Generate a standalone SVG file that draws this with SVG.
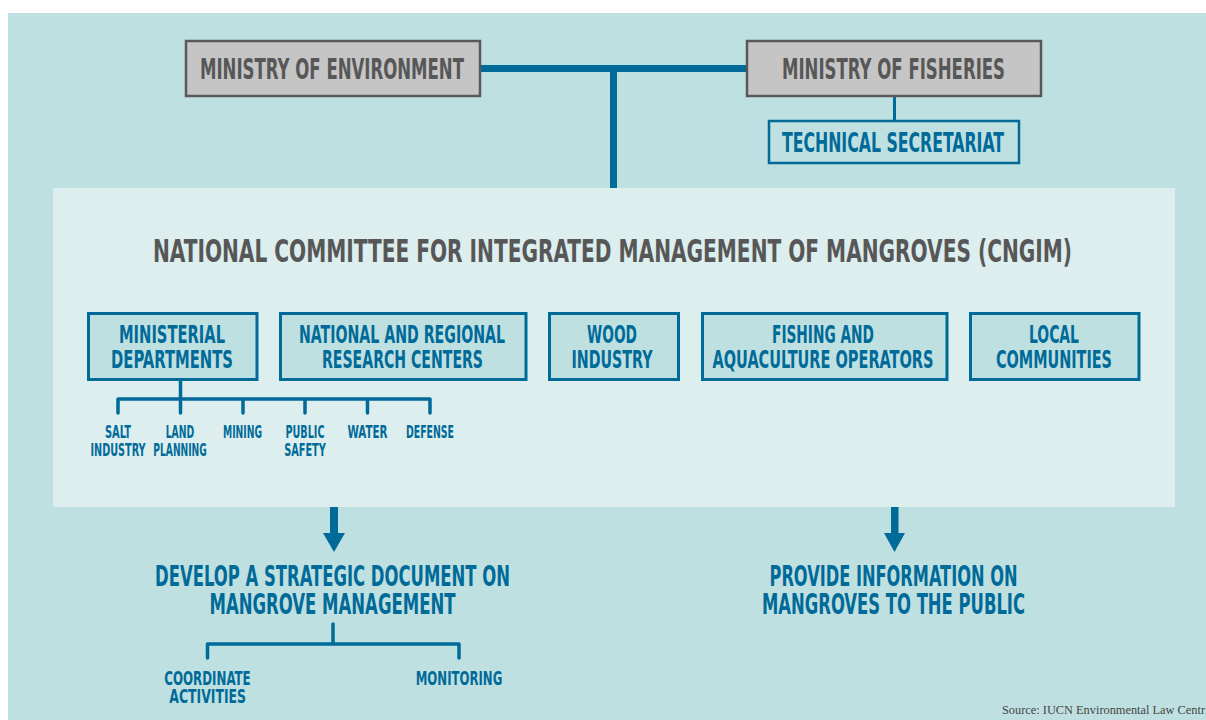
<svg xmlns="http://www.w3.org/2000/svg" width="1206" height="720" viewBox="0 0 1206 720">
<style>
.gbox{fill:#c5c5c5;stroke:#595959;stroke-width:2.5}
.bbox{fill:#bfe0e0;stroke:#006a99;stroke-width:3}
.gt{font-family:"Liberation Sans Narrow","DejaVu Sans Condensed","Liberation Sans",sans-serif;font-weight:bold;fill:#575757;text-anchor:middle}
.bt{font-family:"Liberation Sans Narrow","DejaVu Sans Condensed","Liberation Sans",sans-serif;font-weight:bold;fill:#006a99;text-anchor:middle}
.ln{stroke:#006a99;fill:none;stroke-linecap:round;stroke-linejoin:round}
.src{font-family:"Liberation Serif","DejaVu Serif",serif;fill:#444;font-size:12.5px}
</style>
<rect x="0" y="0" width="1206" height="720" fill="#ffffff"/>
<rect x="8" y="13" width="1198" height="707" fill="#bfe0e0"/>
<rect id="panel" x="53" y="188" width="1122" height="319" fill="#dceeee"/>
<g id="connectors">
<rect x="480" y="65" width="268" height="7" fill="#006a99"/>
<rect x="610" y="65" width="7" height="123" fill="#006a99"/>
<line class="ln" x1="894.5" y1="96" x2="894.5" y2="121" style="stroke-width:3;stroke-linecap:butt"/>
<path class="ln" style="stroke-width:3.5" d="M180.5 380 V399 M118 413 V399 H430 V413 M180.5 399 V413 M243 399 V413 M305 399 V413 M367.5 399 V413"/>
<rect x="330" y="507" width="8" height="28" fill="#006a99"/>
<polygon points="323,533 345,533 334,552" fill="#006a99"/>
<rect x="891" y="507" width="7.5" height="28" fill="#006a99"/>
<polygon points="884,533 905,533 894.5,552" fill="#006a99"/>
<path class="ln" style="stroke-width:3.5" d="M333 624 V644 M207.5 658 V644 H459 V658"/>
</g>
<g id="ministry-environment">
<rect class="gbox" x="186" y="41" width="294" height="55"/>
<text class="gt" x="332" y="79" font-size="29" textLength="264" lengthAdjust="spacingAndGlyphs">MINISTRY OF ENVIRONMENT</text>
</g>
<g id="ministry-fisheries">
<rect class="gbox" x="747" y="41" width="294" height="55"/>
<text class="gt" x="893.5" y="79" font-size="29" textLength="223" lengthAdjust="spacingAndGlyphs">MINISTRY OF FISHERIES</text>
</g>
<g id="technical-secretariat">
<rect class="bbox" x="769" y="121" width="250" height="42" style="stroke-width:2.5"/>
<text class="bt" x="893" y="152" font-size="26.5" textLength="222" lengthAdjust="spacingAndGlyphs">TECHNICAL SECRETARIAT</text>
</g>
<g id="cngim-title">
<text class="gt" transform="translate(612.5 262) scale(1 1.333)" x="0" y="0" font-size="24" textLength="919" lengthAdjust="spacingAndGlyphs">NATIONAL COMMITTEE FOR INTEGRATED MANAGEMENT OF MANGROVES (CNGIM)</text>
</g>
<g id="ministerial-departments">
<rect class="bbox" x="88.5" y="313.5" width="168.5" height="66"/>
<text class="bt" x="172" y="343" font-size="25" textLength="106" lengthAdjust="spacingAndGlyphs">MINISTERIAL</text>
<text class="bt" x="172" y="368" font-size="25" textLength="122" lengthAdjust="spacingAndGlyphs">DEPARTMENTS</text>
</g>
<g id="research-centers">
<rect class="bbox" x="280.5" y="313.5" width="245.5" height="66"/>
<text class="bt" x="402" y="343" font-size="25" textLength="206" lengthAdjust="spacingAndGlyphs">NATIONAL AND REGIONAL</text>
<text class="bt" x="402.5" y="368" font-size="25" textLength="161" lengthAdjust="spacingAndGlyphs">RESEARCH CENTERS</text>
</g>
<g id="wood-industry">
<rect class="bbox" x="549.5" y="313.5" width="129" height="66"/>
<text class="bt" x="612" y="343" font-size="25" textLength="50" lengthAdjust="spacingAndGlyphs">WOOD</text>
<text class="bt" x="612" y="368" font-size="25" textLength="81" lengthAdjust="spacingAndGlyphs">INDUSTRY</text>
</g>
<g id="fishing-aquaculture">
<rect class="bbox" x="702.5" y="313.5" width="244.5" height="66"/>
<text class="bt" x="823" y="343" font-size="25" textLength="102" lengthAdjust="spacingAndGlyphs">FISHING AND</text>
<text class="bt" x="823" y="368" font-size="25" textLength="221" lengthAdjust="spacingAndGlyphs">AQUACULTURE OPERATORS</text>
</g>
<g id="local-communities">
<rect class="bbox" x="970.5" y="313.5" width="168.5" height="66"/>
<text class="bt" x="1054" y="343" font-size="25" textLength="50" lengthAdjust="spacingAndGlyphs">LOCAL</text>
<text class="bt" x="1054" y="368" font-size="25" textLength="116" lengthAdjust="spacingAndGlyphs">COMMUNITIES</text>
</g>
<g id="salt-industry">
<text class="bt" x="118" y="438" font-size="18.5" textLength="26" lengthAdjust="spacingAndGlyphs">SALT</text>
<text class="bt" x="118" y="456" font-size="18.5" textLength="55" lengthAdjust="spacingAndGlyphs">INDUSTRY</text>
</g>
<g id="land-planning">
<text class="bt" x="180" y="438" font-size="18.5" textLength="28.6" lengthAdjust="spacingAndGlyphs">LAND</text>
<text class="bt" x="180" y="456" font-size="18.5" textLength="53.4" lengthAdjust="spacingAndGlyphs">PLANNING</text>
</g>
<g id="mining">
<text class="bt" x="242.5" y="438" font-size="18.5" textLength="39" lengthAdjust="spacingAndGlyphs">MINING</text>
</g>
<g id="public-safety">
<text class="bt" x="305" y="438" font-size="18.5" textLength="39" lengthAdjust="spacingAndGlyphs">PUBLIC</text>
<text class="bt" x="305" y="456" font-size="18.5" textLength="41.7" lengthAdjust="spacingAndGlyphs">SAFETY</text>
</g>
<g id="water">
<text class="bt" x="367.5" y="438" font-size="18.5" textLength="40" lengthAdjust="spacingAndGlyphs">WATER</text>
</g>
<g id="defense">
<text class="bt" x="430" y="438" font-size="18.5" textLength="48" lengthAdjust="spacingAndGlyphs">DEFENSE</text>
</g>
<g id="strategic-document">
<text class="bt" x="332.5" y="586" font-size="28" textLength="355" lengthAdjust="spacingAndGlyphs">DEVELOP A STRATEGIC DOCUMENT ON</text>
<text class="bt" x="332.5" y="614" font-size="28" textLength="246" lengthAdjust="spacingAndGlyphs">MANGROVE MANAGEMENT</text>
</g>
<g id="provide-information">
<text class="bt" x="893.5" y="585.5" font-size="28" textLength="248" lengthAdjust="spacingAndGlyphs">PROVIDE INFORMATION ON</text>
<text class="bt" x="893.5" y="614" font-size="28" textLength="263" lengthAdjust="spacingAndGlyphs">MANGROVES TO THE PUBLIC</text>
</g>
<g id="coordinate-activities">
<text class="bt" x="207.5" y="685" font-size="19.5" textLength="86.4" lengthAdjust="spacingAndGlyphs">COORDINATE</text>
<text class="bt" x="207.7" y="703" font-size="19.5" textLength="76.7" lengthAdjust="spacingAndGlyphs">ACTIVITIES</text>
</g>
<g id="monitoring">
<text class="bt" x="459" y="685" font-size="19.5" textLength="86.6" lengthAdjust="spacingAndGlyphs">MONITORING</text>
</g>
<text class="src" x="1002" y="714" textLength="203" lengthAdjust="spacingAndGlyphs">Source: IUCN Environmental Law Centr</text>
</svg>
